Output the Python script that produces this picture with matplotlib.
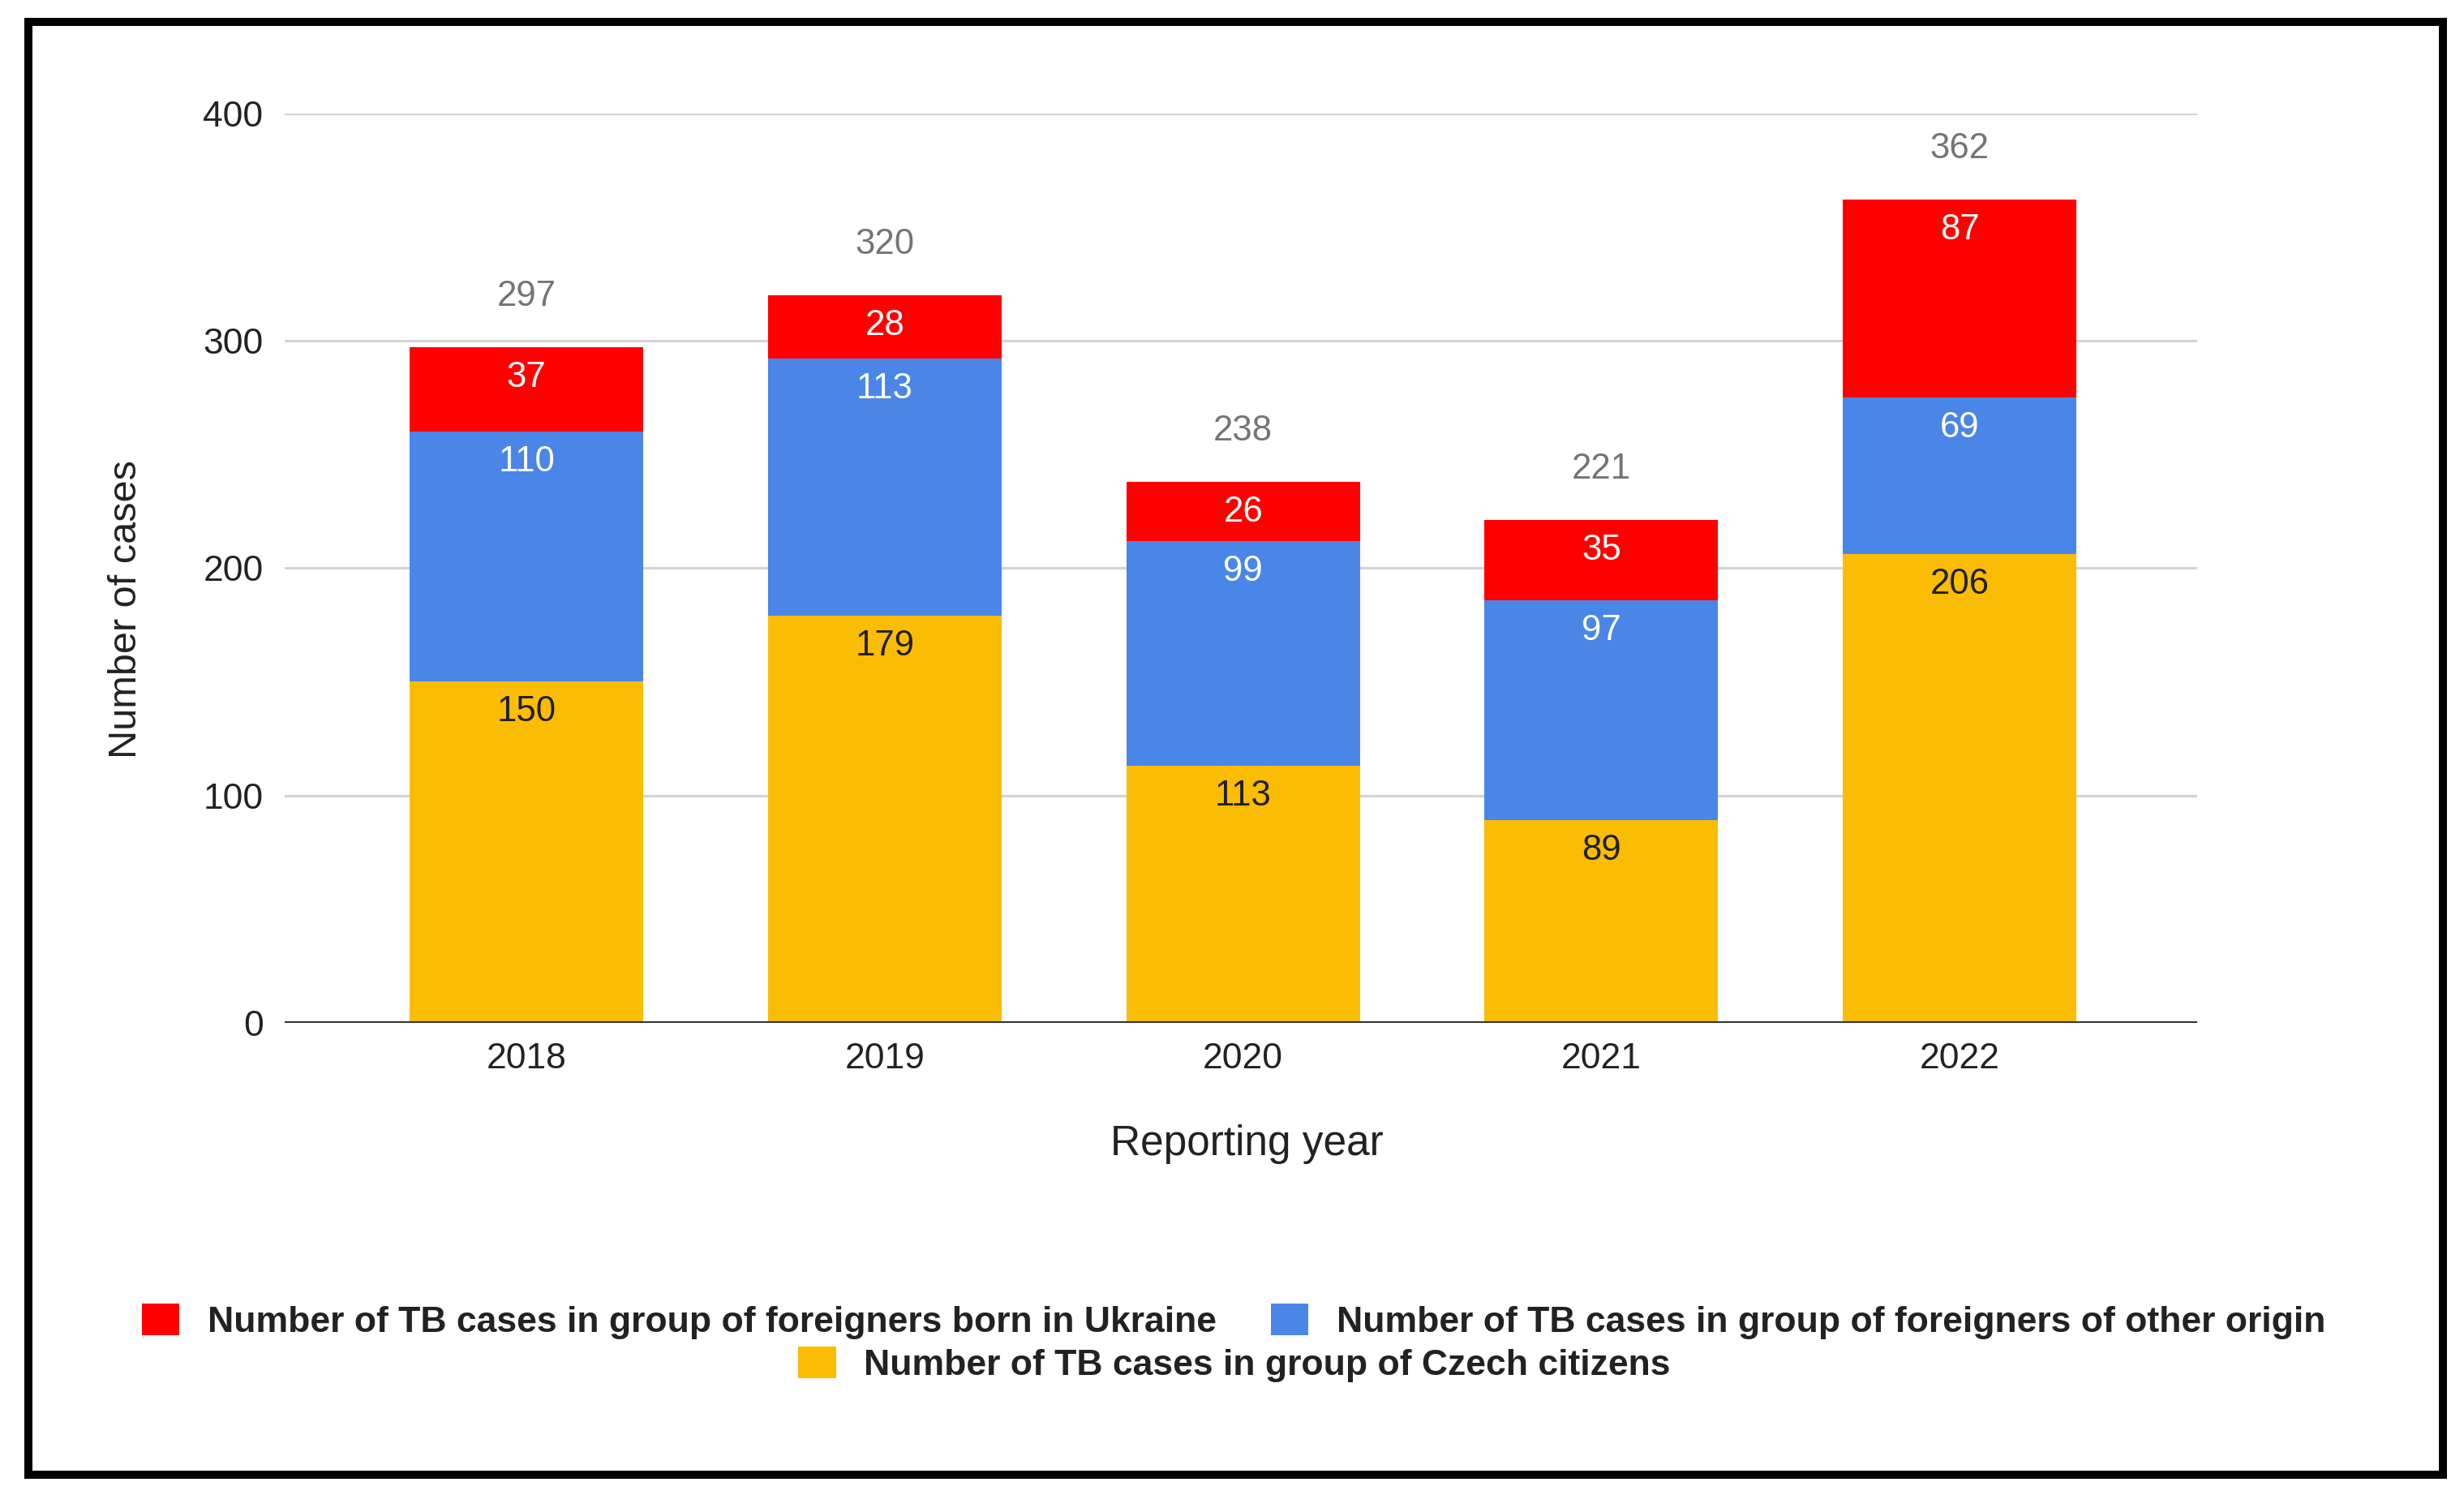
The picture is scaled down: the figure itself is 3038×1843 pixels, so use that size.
import numpy as np
import matplotlib
matplotlib.use("Agg")
import matplotlib.pyplot as plt
from matplotlib.patches import Patch, Rectangle

plt.rcParams["font.family"] = ["Liberation Sans", "DejaVu Sans"]

# data
years = ["2018", "2019", "2020", "2021", "2022"]
czech = [150, 179, 113, 89, 206]
other = [110, 113, 99, 97, 69]
ukraine = [37, 28, 26, 35, 87]
totals = [297, 320, 238, 221, 362]

series_names = [
    "Number of TB cases in group of foreigners born in Ukraine",
    "Number of TB cases in group of foreigners of other origin",
    "Number of TB cases in group of Czech citizens",
]
c_red = "#FF0000"
c_blue = "#4A86E8"
c_yellow = "#FBBC04"

W, H = 3038, 1843
fig = plt.figure(figsize=(W / 100, H / 100), dpi=100)
ax = fig.add_axes([351 / W, 1 - 1261 / H, (2709 - 351) / W, (1261 - 139.5) / H])

x = np.arange(len(years))
bw = 0.652
czech = np.array(czech)
other = np.array(other)
ukraine = np.array(ukraine)

ax.bar(x, czech, bw, color=c_yellow, zorder=2)
ax.bar(x, other, bw, bottom=czech, color=c_blue, zorder=2)
ax.bar(x, ukraine, bw, bottom=czech + other, color=c_red, zorder=2)

lab_fs = 31.5
for i in range(len(x)):
    ax.annotate(str(czech[i]), (x[i], czech[i]), xytext=(0, -27), textcoords="offset points",
                ha="center", va="center", fontsize=lab_fs, color="#202020", zorder=3)
    ax.annotate(str(other[i]), (x[i], czech[i] + other[i]), xytext=(0, -27), textcoords="offset points",
                ha="center", va="center", fontsize=lab_fs, color="white", zorder=3)
    ax.annotate(str(ukraine[i]), (x[i], czech[i] + other[i] + ukraine[i]), xytext=(0, -27),
                textcoords="offset points", ha="center", va="center", fontsize=lab_fs, color="white", zorder=3)
    ax.annotate(str(totals[i]), (x[i], totals[i]), xytext=(0, 45), textcoords="offset points",
                ha="center", va="center", fontsize=lab_fs, color="#757575", zorder=3)

ax.set_xlim(-0.675, 4.663)
ax.set_ylim(0, 400)
ax.set_yticks([0, 100, 200, 300, 400])
ax.set_xticks(x)
ax.set_xticklabels(years)
ax.tick_params(axis="both", length=0, labelsize=32, colors="#222222")
ax.tick_params(axis="y", pad=19)
ax.tick_params(axis="x", pad=17)
ax.grid(axis="y", color="#D3D3D3", lw=2.2, zorder=0)
ax.axhline(0, color="#333333", lw=3, zorder=3)
for s in ax.spines.values():
    s.set_visible(False)

ax.set_xlabel("Reporting year", fontsize=37, color="#222222", va="center")
ax.xaxis.set_label_coords(0.503, -0.1337)
ax.set_ylabel("Number of cases", fontsize=35, color="#222222", va="center")
ax.yaxis.set_label_coords(-0.0827, 0.4547)

# legend: two rows, each centred
leg_kw = dict(frameon=False, loc="center", borderpad=0, handlelength=1.05, handleheight=0.97,
              handletextpad=0.78, columnspacing=1.5,
              prop={"size": 32, "weight": "bold"})
h1 = [Patch(facecolor=c_red, label=series_names[0]), Patch(facecolor=c_blue, label=series_names[1])]
h2 = [Patch(facecolor=c_yellow, label=series_names[2])]
leg1 = fig.legend(handles=h1, ncol=2, bbox_to_anchor=(0.5007, 1 - 1629 / H), **leg_kw)
leg2 = fig.legend(handles=h2, ncol=1, bbox_to_anchor=(0.501, 1 - 1682 / H), **leg_kw)
for lg in (leg1, leg2):
    for t in lg.get_texts():
        t.set_color("#222222")

# outer frame
fig.patches.append(Rectangle((35 / W, 1 - 1818 / H), (3012 - 35) / W, (1818 - 27) / H,
                             transform=fig.transFigure, fill=False, lw=7.2, ec="black"))

fig.savefig("out.png", dpi=100, facecolor="white")
